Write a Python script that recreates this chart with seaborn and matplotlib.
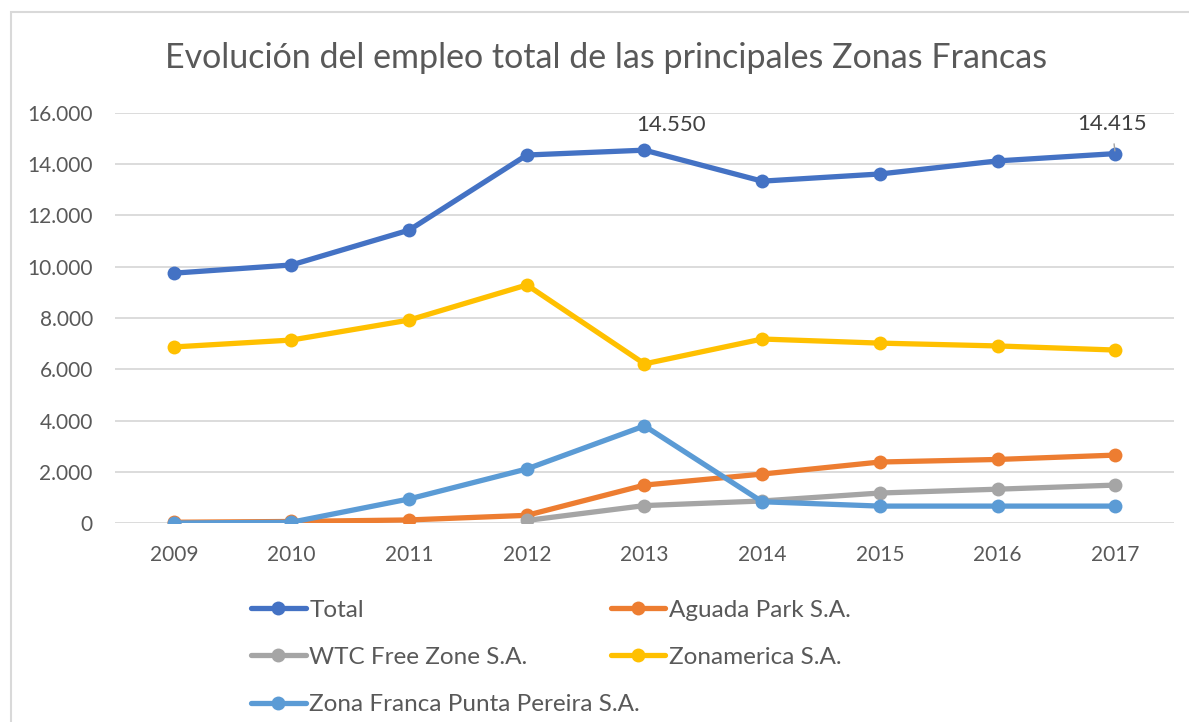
import pandas as pd
import numpy as np
import matplotlib.pyplot as plt
import matplotlib.ticker as mticker
from matplotlib.patches import Rectangle
import seaborn as sns

sns.set_theme(style="white")
plt.rcParams['font.family'] = ['Lato', 'DejaVu Sans']

# Values
years = [2009, 2010, 2011, 2012, 2013, 2014, 2015, 2016, 2017]
total = [9750, 10070, 11430, 14360, 14550, 13340, 13620, 14130, 14415]
aguada = [30, 60, 120, 300, 1480, 1910, 2380, 2480, 2650]
wtc = [np.nan, np.nan, np.nan, 100, 680, 860, 1170, 1320, 1480]
zonamerica = [6870, 7140, 7920, 9290, 6210, 7180, 7020, 6910, 6750]
punta_pereira = [0, 30, 940, 2110, 3790, 830, 660, 660, 660]

series_names = ['Total', 'Aguada Park S.A.', 'WTC Free Zone S.A.',
                'Zonamerica S.A.', 'Zona Franca Punta Pereira S.A.']
series_values = [total, aguada, wtc, zonamerica, punta_pereira]
colors = ['#4472C4', '#ED7D31', '#A5A5A5', '#FFC000', '#5B9BD5']

rows = []
for name, vals in zip(series_names, series_values):
    for i, (yr, v) in enumerate(zip(years, vals)):
        rows.append({'pos': i, 'year': str(yr), 'serie': name, 'empleo': v})
df = pd.DataFrame(rows)

fig = plt.figure(figsize=(11.89, 7.22), dpi=100)
ax = fig.add_axes([0.0967, 0.2756, 0.8907, 0.5679])

sns.lineplot(data=df, x='pos', y='empleo', hue='serie', hue_order=series_names,
             palette=colors, marker='o', markersize=10, markeredgewidth=0,
             linewidth=3.8, ax=ax, legend=True, estimator=None)

ax.set_xlim(-0.5, len(years) - 0.5)
ax.set_ylim(0, 16000)
ax.set_xticks(range(len(years)))
ax.set_xticklabels([str(y) for y in years])
ax.yaxis.set_major_locator(mticker.MultipleLocator(2000))
ax.yaxis.set_major_formatter(mticker.FuncFormatter(
    lambda v, p: f"{int(v):,}".replace(',', '.')))
ax.tick_params(axis='both', labelsize=15, colors='#595959', length=0)
ax.tick_params(axis='x', pad=16)
ax.tick_params(axis='y', pad=16)
ax.grid(axis='y', color='#d9d9d9', linewidth=1.3)
ax.set_axisbelow(True)
for s in ax.spines.values():
    s.set_visible(False)
ax.set_xlabel('')
ax.set_ylabel('')

# data labels on the Total series
ax.annotate(f"{total[4]:,}".replace(',', '.'), (4, total[4]),
            xytext=(19, 18), textcoords='offset points', ha='center',
            va='center', fontsize=16, color='#404040')
ax.annotate(f"{total[8]:,}".replace(',', '.'), (8, total[8]),
            xytext=(-2, 21), textcoords='offset points', ha='center',
            va='center', fontsize=16, color='#404040')
ax.annotate('', (8, total[8]), xytext=(-1, 9), textcoords='offset points',
            arrowprops=dict(arrowstyle='-', color='#a5a5a5', lw=1))

fig.text(0.51, 0.92, 'Evolución del empleo total de las principales Zonas Francas',
         ha='center', va='center', fontsize=24.5, color='#595959')

# legend: left column and right column as two blocks
handles, labels = ax.get_legend_handles_labels()
ax.get_legend().remove()
leg_kw = dict(loc='upper left', frameon=False, fontsize=17.5, handlelength=2.25,
              labelspacing=1.08, handletextpad=0.15, labelcolor='#595959',
              borderaxespad=0, borderpad=0)
leg1 = fig.legend([handles[k] for k in [0, 2, 4]], [labels[k] for k in [0, 2, 4]],
                  bbox_to_anchor=(0.211, 0.1695), **leg_kw)
leg2 = fig.legend([handles[k] for k in [1, 3]], [labels[k] for k in [1, 3]],
                  bbox_to_anchor=(0.5135, 0.1695), **leg_kw)

fig.patches.append(Rectangle((0.009, -0.05), 1.2, 1.034, transform=fig.transFigure,
                             fill=False, edgecolor='#d9d9d9', linewidth=1.5))

fig.savefig('out.png', dpi=100)
